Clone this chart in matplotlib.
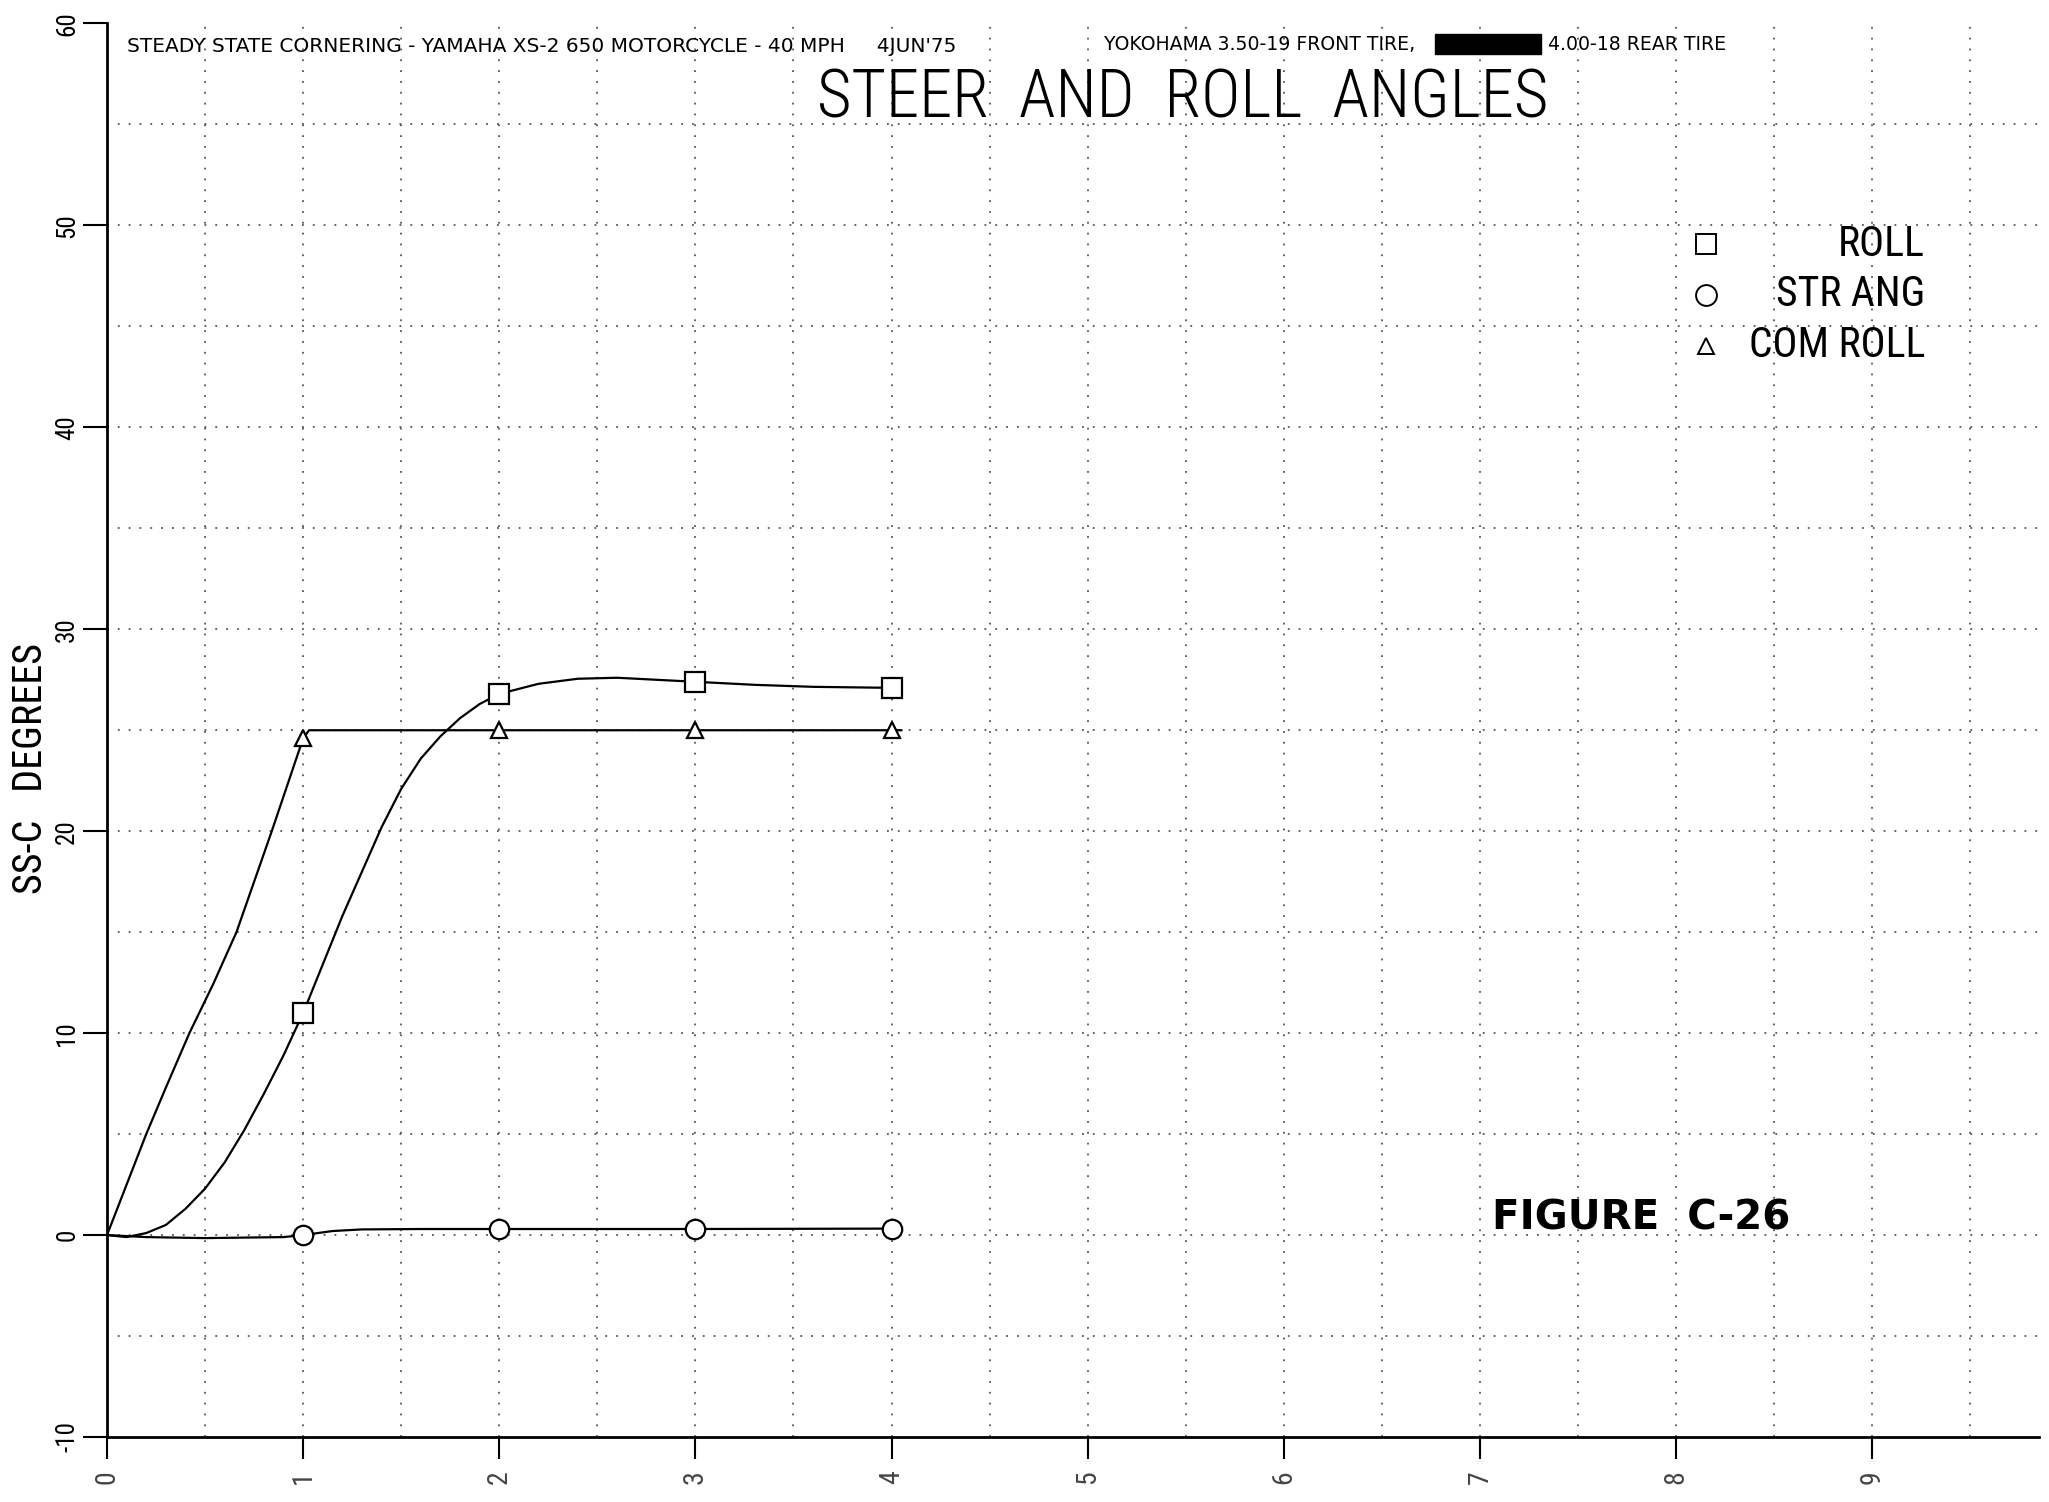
import matplotlib
matplotlib.use("Agg")
import matplotlib.pyplot as plt
from matplotlib.lines import Line2D

# ---------------- data ----------------
x_marker = [1, 2, 3, 4]
roll_marker = [11.0, 26.8, 27.4, 27.1]
str_marker = [0.0, 0.3, 0.3, 0.3]
com_marker = [24.6, 25.0, 25.0, 25.0]

roll_curve_x = [0, 0.1, 0.2, 0.3, 0.4, 0.5, 0.6, 0.7, 0.8, 0.9, 1.0, 1.1, 1.2,
                1.3, 1.4, 1.5, 1.6, 1.7, 1.8, 1.9, 2.0, 2.2, 2.4, 2.6, 2.8, 3.0,
                3.3, 3.6, 4.0]
roll_curve_y = [0, -0.1, 0.1, 0.5, 1.3, 2.3, 3.6, 5.2, 7.0, 8.9, 11.0, 13.4, 15.8,
                18.0, 20.2, 22.1, 23.6, 24.7, 25.6, 26.3, 26.8, 27.3, 27.55, 27.6,
                27.5, 27.4, 27.25, 27.15, 27.1]

str_curve_x = [0, 0.2, 0.5, 0.9, 1.0, 1.15, 1.3, 1.6, 2.0, 3.0, 4.0]
str_curve_y = [0, -0.1, -0.15, -0.1, 0.0, 0.2, 0.28, 0.3, 0.3, 0.3, 0.32]

com_curve_x = [0, 0.1, 0.2, 0.3, 0.42, 0.54, 0.66, 0.75, 0.84, 0.92, 1.0, 1.03,
               2.0, 3.0, 4.0, 4.05]
com_curve_y = [0, 2.5, 5.0, 7.3, 10.0, 12.4, 15.0, 17.5, 20.0, 22.3, 24.6, 25.0,
               25.0, 25.0, 25.0, 25.0]

x_ticks = [0, 1, 2, 3, 4, 5, 6, 7, 8, 9]
x_ticklabels = ["0", "1", "2", "3", "4", "5", "6", "7", "8", "9"]
y_ticks = [-10, 0, 10, 20, 30, 40, 50, 60]
y_ticklabels = ["-10", "0", "10", "20", "30", "40", "50", "60"]

series_labels = ["ROLL", "STR ANG", "COM ROLL"]

header1 = "STEADY STATE CORNERING - YAMAHA XS-2 650 MOTORCYCLE - 40 MPH     4JUN'75"
header2a = "YOKOHAMA 3.50-19 FRONT TIRE,"
header2b = "4.00-18 REAR TIRE"
title = "STEER  AND  ROLL  ANGLES"
ylabel = "SS-C   DEGREES"
figure_note = "FIGURE  C-26"

# ---------------- style ----------------
FONT = ["Liberation Sans Narrow", "Roboto Condensed", "DejaVu Sans"]
plt.rcParams["font.family"] = FONT
plt.rcParams["font.stretch"] = "condensed"

W, H = 2049, 1502
fig = plt.figure(figsize=(W / 100, H / 100), dpi=100)
ax_l, ax_r = 107, 2039
ax_t, ax_b = 23.5, 1437
ax = fig.add_axes([ax_l / W, 1 - ax_b / H, (ax_r - ax_l) / W, (ax_b - ax_t) / H])

ax.set_xlim(0, 9.85)
ax.set_ylim(-10, 60)

# grid (dotted, every 0.5 in x and 5 in y)
dot = (0, (1, 5))
for gx in [i * 0.5 for i in range(1, 20)]:
    ax.axvline(gx, color="#555555", lw=1.3, ls=dot, zorder=0)
for gy in range(-5, 61, 5):
    ax.axhline(gy, color="#555555", lw=1.3, ls=dot, zorder=0)

# spines
for s in ["top", "right"]:
    ax.spines[s].set_visible(False)
for s in ["left", "bottom"]:
    ax.spines[s].set_linewidth(2.0)
    ax.spines[s].set_color("black")

ax.set_xticks(x_ticks)
ax.set_xticklabels(x_ticklabels, rotation=90, color="#444444", fontsize=20)
ax.set_yticks(y_ticks)
ax.set_yticklabels(y_ticklabels, rotation=90, va="center", fontsize=18)
ax.tick_params(axis="x", direction="out", length=16, width=1.5, pad=8)
ax.tick_params(axis="y", direction="out", length=17, width=1.5, pad=3)

# curves
lw = 1.6
ax.plot(roll_curve_x, roll_curve_y, color="black", lw=lw, zorder=3)
ax.plot(str_curve_x, str_curve_y, color="black", lw=lw, zorder=3)
ax.plot(com_curve_x, com_curve_y, color="black", lw=lw, zorder=3)

mk = dict(ls="none", mfc="white", mec="black", mew=1.6, zorder=4)
ax.plot(x_marker, roll_marker, marker="s", ms=14, **mk)
ax.plot(x_marker, str_marker, marker="o", ms=14, **mk)
ax.plot(x_marker, com_marker, marker="^", ms=11, **mk)

# legend (manual, right-aligned labels as in the plotter output)
leg_markers = ["s", "o", "^"]
leg_ms = [15, 15, 12]
leg_y = [0.844, 0.808, 0.772]
for lab, m, ms, yy in zip(series_labels, leg_markers, leg_ms, leg_y):
    ax.add_line(Line2D([0.8276], [yy], marker=m, ms=ms, mfc="white", mec="black",
                       mew=1.4, ls="none", transform=ax.transAxes, clip_on=False))
    ax.text(0.941, yy, lab, transform=ax.transAxes, ha="right", va="center",
            fontsize=30, color="black")

# y label
fig.text(31 / W, 1 - 768 / H, ylabel, rotation=90, ha="center", va="center",
         fontsize=29)

# headers (wider lettering than the rest)
hdr1 = dict(ha="left", va="center", fontsize=14.5, family=["DejaVu Sans"],
            stretch="normal")
hdr2 = dict(ha="left", va="center", fontsize=13.6, family=["DejaVu Sans"],
            stretch="normal")
fig.text(127 / W, 1 - 46 / H, header1, **hdr1)
fig.text(1104 / W, 1 - 44 / H, header2a, **hdr2)
fig.text(1488 / W, 1 - 44 / H, "XXXXXXXXX", ha="center", va="center", fontsize=12,
         family=["DejaVu Sans"], stretch="normal", color="black",
         bbox=dict(facecolor="black", edgecolor="black", pad=1))
fig.text(1548 / W, 1 - 44 / H, header2b, **hdr2)

# title
fig.text(1183 / W, 1 - 99 / H, title, ha="center", va="center", fontsize=48,
         fontweight="light")

# handwritten figure number
ax.text(7.06, 0.8, figure_note, ha="left", va="center", fontsize=29,
        fontweight="bold", family=["DejaVu Sans"], stretch="normal")

fig.savefig("out.png", dpi=100, facecolor="white")
